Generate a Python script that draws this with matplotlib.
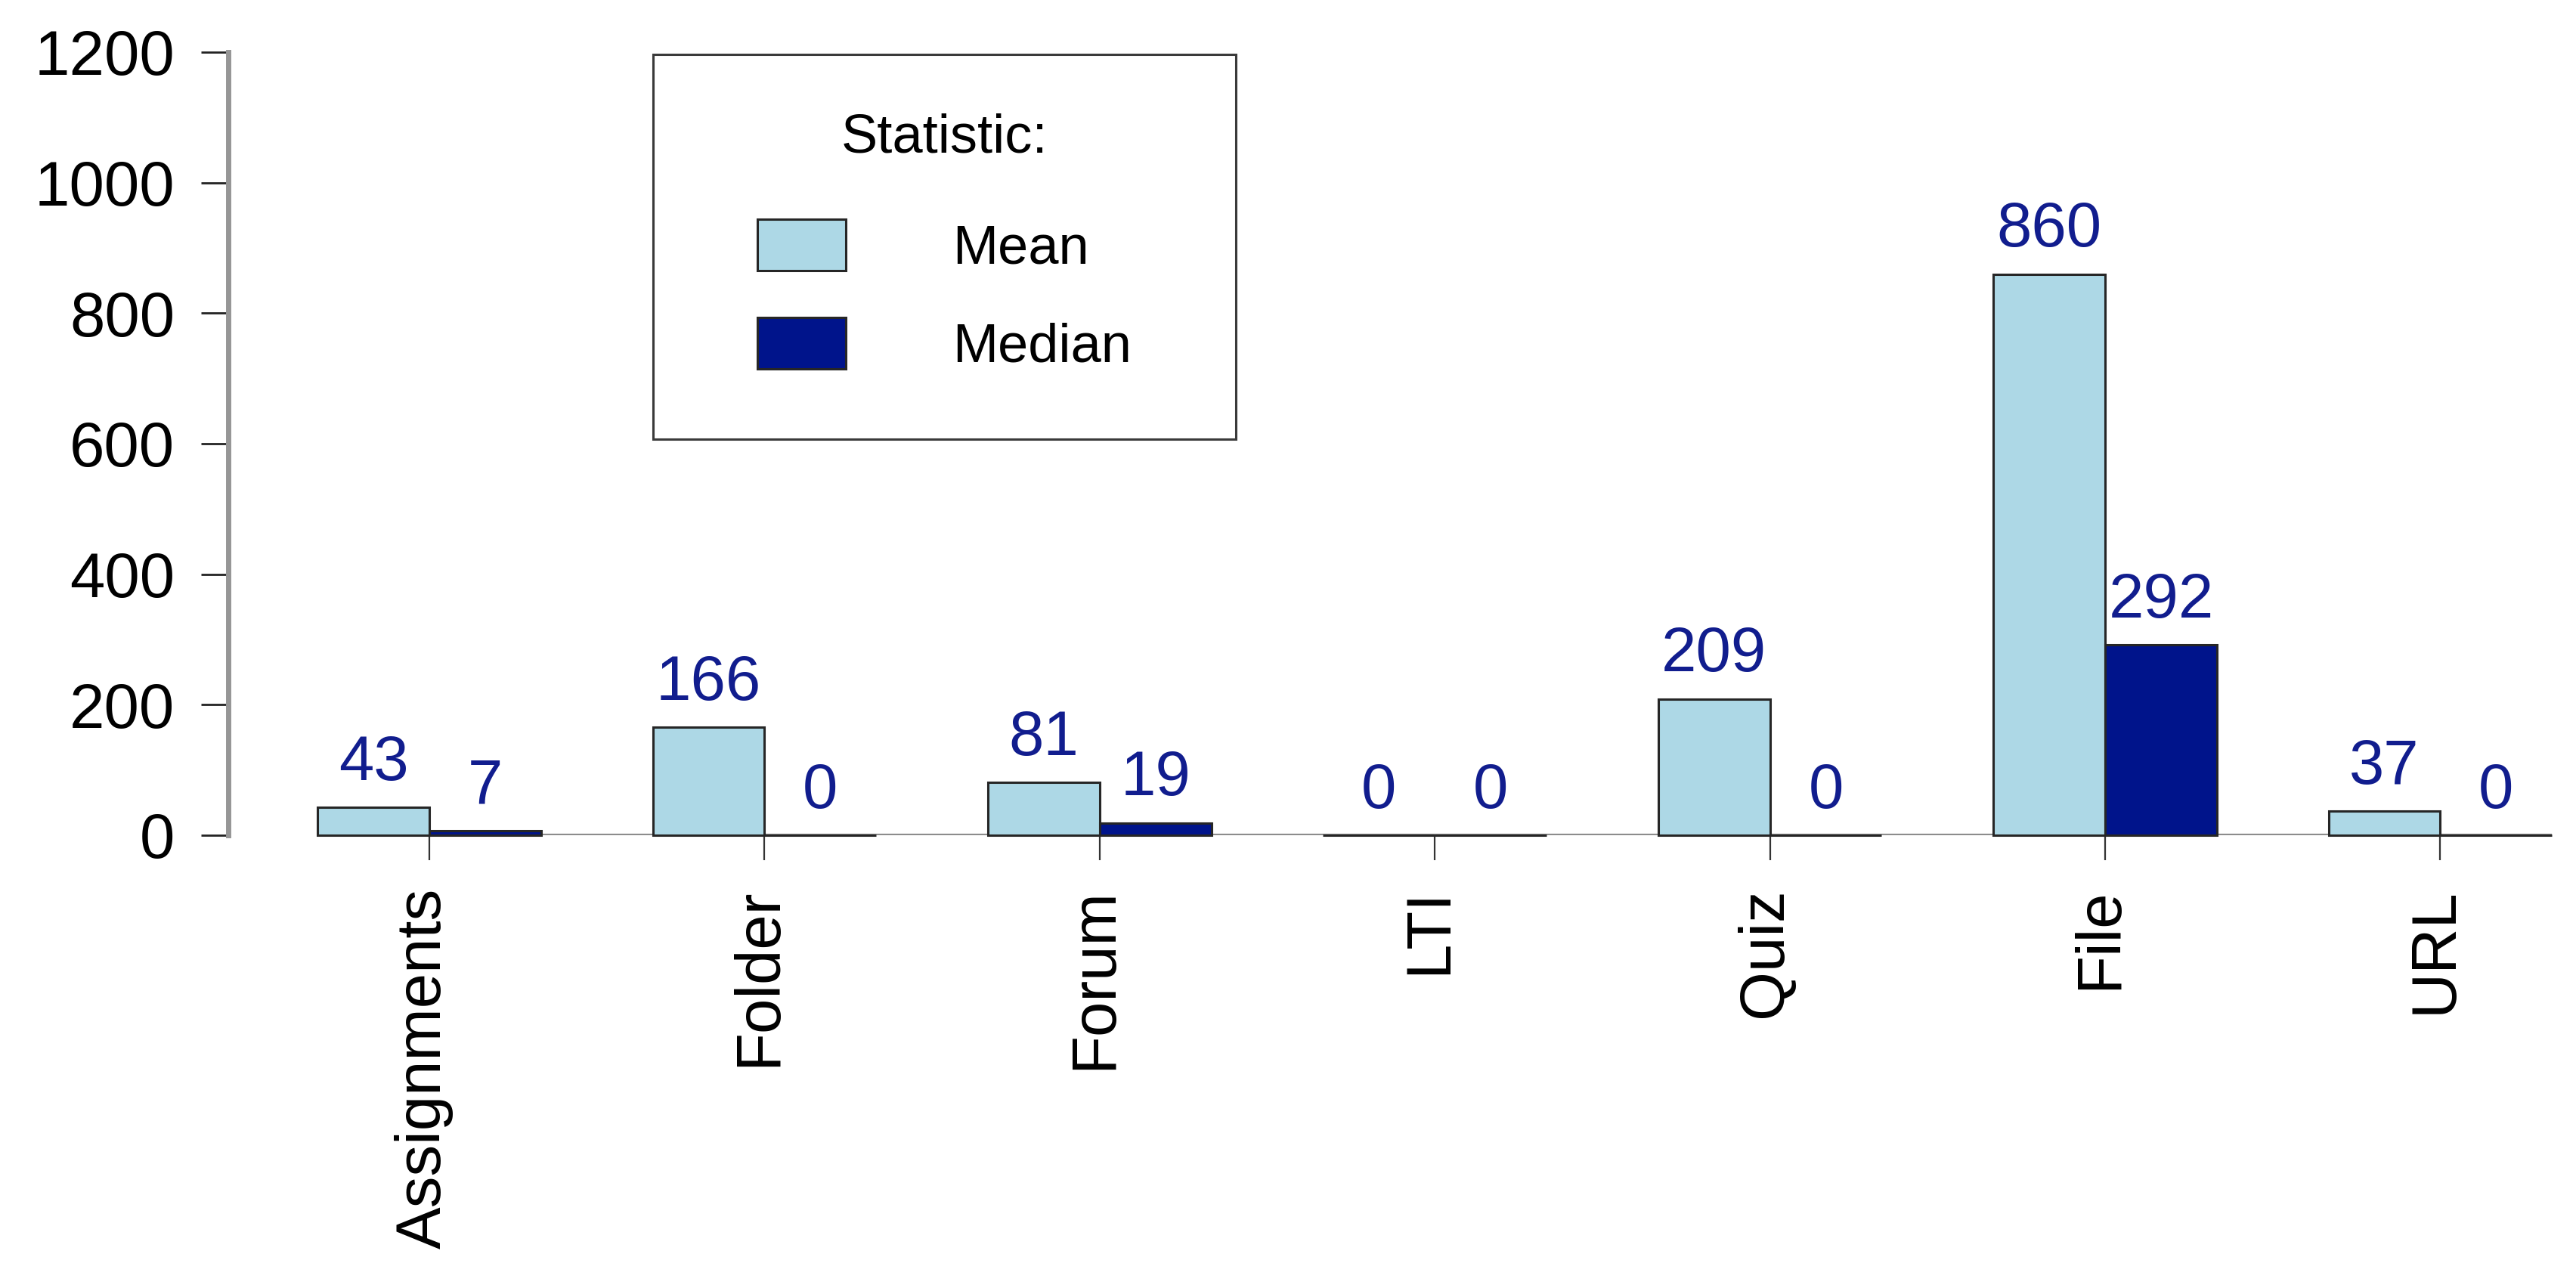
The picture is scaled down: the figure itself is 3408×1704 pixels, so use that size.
import numpy as np
import matplotlib
matplotlib.use("Agg")
import matplotlib.pyplot as plt
from matplotlib.patches import Patch
from matplotlib.offsetbox import DrawingArea, VPacker
from matplotlib.transforms import ScaledTranslation

plt.rcParams['font.family'] = ['Liberation Sans', 'DejaVu Sans']

categories = ["Assignments", "Folder", "Forum", "LTI", "Quiz", "File", "URL"]
series_names = ["Mean", "Median"]
mean_values = [43, 166, 81, 0, 209, 860, 37]
median_values = [7, 0, 19, 0, 0, 292, 0]
y_ticks = [0, 200, 400, 600, 800, 1000, 1200]
legend_title = "Statistic:"

c_mean = "#ADD8E6"
c_median = "#00148B"
c_label = "#111D8E"
edge = "#262626"

W, H, DPI = 3408, 1704, 100
fig = plt.figure(figsize=(W / DPI, H / DPI), dpi=DPI)

# R-style barplot geometry: bar width 1, one bar space between groups
n = len(categories)
mean_left = 1 + 3 * np.arange(n)
median_left = mean_left + 1
lo, hi = mean_left.min(), median_left.max() + 1
ext = 0.04 * (hi - lo)
unit_px = 147.8
ax_left_px, ax_top_px, ax_bot_px = 302, 69, 1105
ax = fig.add_axes([ax_left_px / W, (H - ax_bot_px) / H,
                   (hi - lo + 2 * ext) * unit_px / W, (ax_bot_px - ax_top_px) / H])
ax.set_xlim(lo - ext, hi + ext)
ax.set_ylim(0, 1200)

# baseline
ax.hlines(0, lo, hi, colors="#8c8c8c", linewidth=3, zorder=1)

ax.bar(mean_left, mean_values, width=1, align='edge', color=c_mean,
       edgecolor=edge, linewidth=2.2, zorder=2, clip_on=False)
ax.bar(median_left, median_values, width=1, align='edge', color=c_median,
       edgecolor=edge, linewidth=2.2, zorder=2, clip_on=False)

for xs, vals in ((mean_left + 0.5, mean_values), (median_left + 0.5, median_values)):
    for x, v in zip(xs, vals):
        ax.annotate(str(v), (x, v), xytext=(0, 26), textcoords='offset points',
                    ha='center', va='baseline', fontsize=60, color=c_label)

# spines / axes
for s in ('top', 'right', 'bottom'):
    ax.spines[s].set_visible(False)
ax.spines['left'].set_bounds(0, 1200)
ax.spines['left'].set_color('#969696')
ax.spines['left'].set_linewidth(5)

ax.set_yticks(y_ticks)
ax.set_yticklabels([str(t) for t in y_ticks])
ax.tick_params(axis='y', direction='out', length=26, width=2, color='#222222',
               pad=25, labelsize=60, labelcolor='black')
ax.set_xticks(median_left)
ax.set_xticklabels(categories, rotation=90, ha='center', va='top')
ax.tick_params(axis='x', direction='out', length=24, width=1.6, color='#333333',
               pad=26, labelsize=60, labelcolor='black')
for lbl in ax.get_xticklabels():
    lbl.set_transform(lbl.get_transform() + ScaledTranslation(-7 / DPI, 0, fig.dpi_scale_trans))

# legend
handles = [Patch(facecolor=c_mean, edgecolor=edge, linewidth=2.2),
           Patch(facecolor=c_median, edgecolor=edge, linewidth=2.2)]
leg = ax.legend(handles, series_names, title=legend_title, loc='upper left',
                bbox_to_anchor=(864 / W, 1 - 72 / H), bbox_transform=fig.transFigure,
                borderaxespad=0, fontsize=52, title_fontsize=52,
                handlelength=1.62, handleheight=1.07, handletextpad=1.95,
                labelspacing=0.78, borderpad=1.08, fancybox=False, frameon=True,
                framealpha=1)
leg.get_frame().set_edgecolor('#3a3a3a')
leg.get_frame().set_linewidth(2.2)
leg._legend_box.sep = 73 / 1.3889
hb = leg._legend_handle_box
hb.sep = 0
hb._children = [DrawingArea(43.2, 0), *hb._children, DrawingArea(43.2, 0)]
leg._legend_box._children[1] = VPacker(pad=0, sep=0, align='left',
                                       children=[hb, DrawingArea(0, 7)])

fig.savefig("out.png", dpi=DPI, facecolor='white')
